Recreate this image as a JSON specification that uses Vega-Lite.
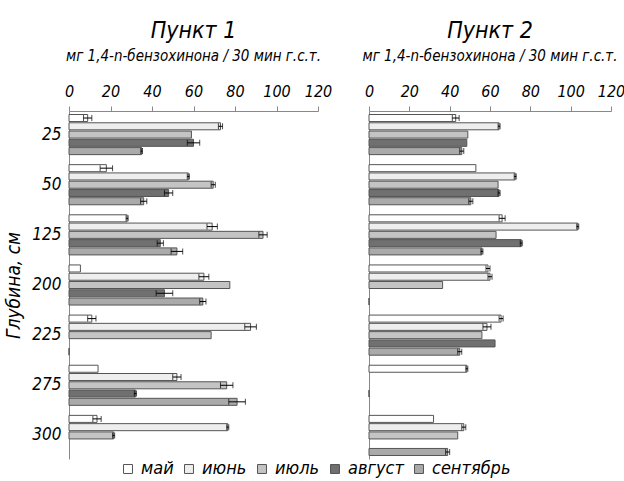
{
  "$schema": "https://vega.github.io/schema/vega-lite/v6.json",
  "padding": {"left": 4, "top": 20, "right": 2, "bottom": 0},
  "background": "white",
  "data": {"name": "d"},
  "datasets": {
    "d": [
      {"p": "1", "d": "25", "s": "май", "v": 9, "lo": 7, "hi": 11},
      {"p": "1", "d": "25", "s": "июнь", "v": 73, "lo": 72, "hi": 74},
      {"p": "1", "d": "25", "s": "июль", "v": 59},
      {"p": "1", "d": "25", "s": "август", "v": 60, "lo": 57, "hi": 63},
      {"p": "1", "d": "25", "s": "сентябрь", "v": 35, "lo": 34.6, "hi": 35.4},
      {"p": "1", "d": "50", "s": "май", "v": 18, "lo": 15, "hi": 21},
      {"p": "1", "d": "50", "s": "июнь", "v": 57.5, "lo": 57, "hi": 58},
      {"p": "1", "d": "50", "s": "июль", "v": 69.5, "lo": 68.5, "hi": 70.5},
      {"p": "1", "d": "50", "s": "август", "v": 48, "lo": 46, "hi": 50},
      {"p": "1", "d": "50", "s": "сентябрь", "v": 36, "lo": 34.5, "hi": 37.5},
      {"p": "1", "d": "125", "s": "май", "v": 28, "lo": 27.5, "hi": 28.5},
      {"p": "1", "d": "125", "s": "июнь", "v": 69, "lo": 66.5, "hi": 71.5},
      {"p": "1", "d": "125", "s": "июль", "v": 93.5, "lo": 91.5, "hi": 95.5},
      {"p": "1", "d": "125", "s": "август", "v": 44, "lo": 42.5, "hi": 45.5},
      {"p": "1", "d": "125", "s": "сентябрь", "v": 52, "lo": 49.2, "hi": 54.8},
      {"p": "1", "d": "200", "s": "май", "v": 5.5},
      {"p": "1", "d": "200", "s": "июнь", "v": 65, "lo": 62.6, "hi": 67.4},
      {"p": "1", "d": "200", "s": "июль", "v": 77.5},
      {"p": "1", "d": "200", "s": "август", "v": 46, "lo": 42, "hi": 50},
      {"p": "1", "d": "200", "s": "сентябрь", "v": 64.5, "lo": 63, "hi": 66},
      {"p": "1", "d": "225", "s": "май", "v": 11, "lo": 9, "hi": 13},
      {"p": "1", "d": "225", "s": "июнь", "v": 87.5, "lo": 84.7, "hi": 90.3},
      {"p": "1", "d": "225", "s": "июль", "v": 68.5},
      {"p": "1", "d": "225", "s": "сентябрь", "v": 0},
      {"p": "1", "d": "275", "s": "май", "v": 14},
      {"p": "1", "d": "275", "s": "июнь", "v": 52, "lo": 50, "hi": 54},
      {"p": "1", "d": "275", "s": "июль", "v": 76, "lo": 73, "hi": 79},
      {"p": "1", "d": "275", "s": "август", "v": 32, "lo": 31.5, "hi": 32.5},
      {"p": "1", "d": "275", "s": "сентябрь", "v": 81, "lo": 77, "hi": 85},
      {"p": "1", "d": "300", "s": "май", "v": 13.5, "lo": 11.5, "hi": 15.5},
      {"p": "1", "d": "300", "s": "июнь", "v": 76.5, "lo": 76, "hi": 77},
      {"p": "1", "d": "300", "s": "июль", "v": 21.5, "lo": 21, "hi": 22},
      {"p": "2", "d": "25", "s": "май", "v": 43, "lo": 41.3, "hi": 44.7},
      {"p": "2", "d": "25", "s": "июнь", "v": 64.5, "lo": 64, "hi": 65},
      {"p": "2", "d": "25", "s": "июль", "v": 49},
      {"p": "2", "d": "25", "s": "август", "v": 48.5},
      {"p": "2", "d": "25", "s": "сентябрь", "v": 46, "lo": 45, "hi": 47},
      {"p": "2", "d": "50", "s": "май", "v": 53},
      {"p": "2", "d": "50", "s": "июнь", "v": 72.5, "lo": 72, "hi": 73},
      {"p": "2", "d": "50", "s": "июль", "v": 64},
      {"p": "2", "d": "50", "s": "август", "v": 64.5, "lo": 64, "hi": 65},
      {"p": "2", "d": "50", "s": "сентябрь", "v": 50.5, "lo": 49.5, "hi": 51.5},
      {"p": "2", "d": "125", "s": "май", "v": 66, "lo": 64.5, "hi": 67.5},
      {"p": "2", "d": "125", "s": "июнь", "v": 103.5, "lo": 103, "hi": 104},
      {"p": "2", "d": "125", "s": "июль", "v": 63},
      {"p": "2", "d": "125", "s": "август", "v": 75.5, "lo": 75, "hi": 76},
      {"p": "2", "d": "125", "s": "сентябрь", "v": 56, "lo": 55.5, "hi": 56.5},
      {"p": "2", "d": "200", "s": "май", "v": 59, "lo": 58, "hi": 60},
      {"p": "2", "d": "200", "s": "июнь", "v": 60, "lo": 59, "hi": 61},
      {"p": "2", "d": "200", "s": "июль", "v": 36.5},
      {"p": "2", "d": "200", "s": "сентябрь", "v": 0},
      {"p": "2", "d": "225", "s": "май", "v": 65.5, "lo": 64.5, "hi": 66.5},
      {"p": "2", "d": "225", "s": "июнь", "v": 58.5, "lo": 56.5, "hi": 60.5},
      {"p": "2", "d": "225", "s": "июль", "v": 56},
      {"p": "2", "d": "225", "s": "август", "v": 62.5},
      {"p": "2", "d": "225", "s": "сентябрь", "v": 45, "lo": 44, "hi": 46},
      {"p": "2", "d": "275", "s": "май", "v": 48.5, "lo": 48, "hi": 49},
      {"p": "2", "d": "275", "s": "август", "v": 0},
      {"p": "2", "d": "300", "s": "май", "v": 32},
      {"p": "2", "d": "300", "s": "июнь", "v": 47, "lo": 46, "hi": 48},
      {"p": "2", "d": "300", "s": "июль", "v": 44},
      {"p": "2", "d": "300", "s": "сентябрь", "v": 39, "lo": 38, "hi": 40}
    ]
  },
  "config": {
    "font": "DejaVu Sans Condensed, sans-serif",
    "view": {"stroke": null},
    "axis": {"grid": false, "labelColor": "black", "domainColor": "#888", "tickColor": "#888", "labelFontStyle": "italic", "titleFontStyle": "italic", "titleFontWeight": "normal", "titleColor": "black"},
    "legend": {"labelFontStyle": "italic"},
    "title": {"fontStyle": "italic", "fontWeight": "normal", "subtitleFontStyle": "italic", "color": "black", "subtitleColor": "black"},
    "concat": {"spacing": 30}
  },
  "hconcat": [
    {
      "width": 249,
      "height": 348,
      "title": {"text": "Пункт 1", "subtitle": "мг 1,4-n-бензохинона / 30 мин г.с.т.", "fontSize": 23, "subtitleFontSize": 15, "subtitlePadding": 6, "offset": 19, "anchor": "middle"},
      "transform": [{"filter": "datum.p === '1'"}],
      "encoding": {
        "y": {"field": "d", "type": "nominal", "sort": ["25", "50", "125", "200", "225", "275", "300"],
          "scale": {"paddingInner": 0.2, "paddingOuter": 0.07},
          "axis": {"title": "Глубина, см", "titleFontSize": 19, "labelFontSize": 17, "ticks": false, "labelPadding": 8, "titlePadding": 8}},
        "yOffset": {"field": "s", "type": "nominal", "sort": ["май", "июнь", "июль", "август", "сентябрь"], "scale": {"paddingInner": 0.15, "paddingOuter": 0}}
      },
      "layer": [
        {
          "mark": {"type": "bar", "stroke": "#555", "strokeWidth": 1},
          "encoding": {
            "x": {"field": "v", "type": "quantitative", "scale": {"domain": [0, 120], "nice": false},
              "axis": {"orient": "top", "values": [0, 20, 40, 60, 80, 100, 120], "title": null, "labelFontSize": 16, "labelFlush": false, "tickSize": 5, "labelPadding": 7}},
            "color": {"field": "s", "type": "nominal", "sort": ["май", "июнь", "июль", "август", "сентябрь"],
              "scale": {"domain": ["май", "июнь", "июль", "август", "сентябрь"], "range": ["#ffffff", "#eeeeee", "#c4c4c4", "#707070", "#aaaaaa"]},
              "legend": {"title": null, "orient": "none", "legendX": 50, "legendY": 349, "direction": "horizontal", "symbolType": "square", "symbolSize": 80, "symbolStrokeColor": "#555", "symbolStrokeWidth": 1, "labelFontSize": 18, "columnPadding": 6, "labelOffset": 4}}
          }
        },
        {
          "transform": [{"filter": "isValid(datum.lo)"}],
          "mark": {"type": "rule", "color": "black", "strokeWidth": 1},
          "encoding": {"x": {"field": "lo", "type": "quantitative"}, "x2": {"field": "hi"}}
        },
        {
          "transform": [{"filter": "isValid(datum.lo)"}],
          "mark": {"type": "tick", "color": "black", "thickness": 1, "size": 6, "orient": "vertical"},
          "encoding": {"x": {"field": "lo", "type": "quantitative"}}
        },
        {
          "transform": [{"filter": "isValid(datum.hi)"}],
          "mark": {"type": "tick", "color": "black", "thickness": 1, "size": 6, "orient": "vertical"},
          "encoding": {"x": {"field": "hi", "type": "quantitative"}}
        }
      ]
    },
    {
      "width": 242,
      "height": 348,
      "title": {"text": "Пункт 2", "subtitle": "мг 1,4-n-бензохинона / 30 мин г.с.т.", "fontSize": 23, "subtitleFontSize": 15, "subtitlePadding": 6, "offset": 19, "anchor": "middle"},
      "transform": [{"filter": "datum.p === '2'"}],
      "encoding": {
        "y": {"field": "d", "type": "nominal", "sort": ["25", "50", "125", "200", "225", "275", "300"],
          "scale": {"paddingInner": 0.2, "paddingOuter": 0.07},
          "axis": {"title": null, "labels": false, "ticks": false}},
        "yOffset": {"field": "s", "type": "nominal", "sort": ["май", "июнь", "июль", "август", "сентябрь"], "scale": {"paddingInner": 0.15, "paddingOuter": 0}}
      },
      "layer": [
        {
          "mark": {"type": "bar", "stroke": "#555", "strokeWidth": 1},
          "encoding": {
            "x": {"field": "v", "type": "quantitative", "scale": {"domain": [0, 120], "nice": false},
              "axis": {"orient": "top", "values": [0, 20, 40, 60, 80, 100, 120], "title": null, "labelFontSize": 16, "labelFlush": false, "tickSize": 5, "labelPadding": 7}},
            "color": {"field": "s", "type": "nominal", "sort": ["май", "июнь", "июль", "август", "сентябрь"],
              "scale": {"domain": ["май", "июнь", "июль", "август", "сентябрь"], "range": ["#ffffff", "#eeeeee", "#c4c4c4", "#707070", "#aaaaaa"]}}
          }
        },
        {
          "transform": [{"filter": "isValid(datum.lo)"}],
          "mark": {"type": "rule", "color": "black", "strokeWidth": 1},
          "encoding": {"x": {"field": "lo", "type": "quantitative"}, "x2": {"field": "hi"}}
        },
        {
          "transform": [{"filter": "isValid(datum.lo)"}],
          "mark": {"type": "tick", "color": "black", "thickness": 1, "size": 6, "orient": "vertical"},
          "encoding": {"x": {"field": "lo", "type": "quantitative"}}
        },
        {
          "transform": [{"filter": "isValid(datum.hi)"}],
          "mark": {"type": "tick", "color": "black", "thickness": 1, "size": 6, "orient": "vertical"},
          "encoding": {"x": {"field": "hi", "type": "quantitative"}}
        }
      ]
    }
  ]
}
